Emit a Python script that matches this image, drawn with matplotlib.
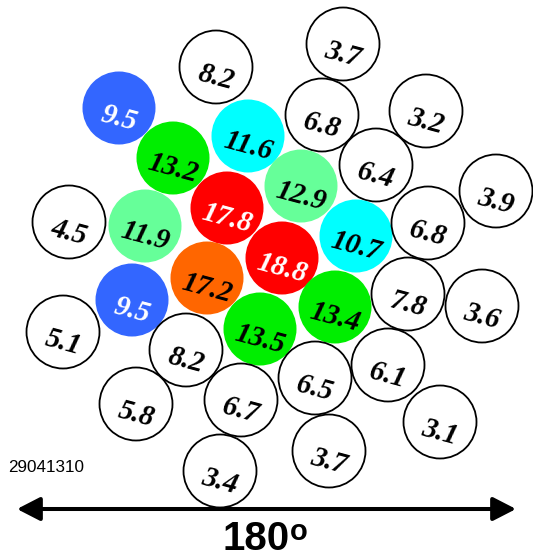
import matplotlib
matplotlib.use('Agg')
import matplotlib.pyplot as plt
from matplotlib.patches import Circle, FancyArrowPatch

# values shown in each circle
values = [8.2, 3.7, 9.5, 6.8, 3.2, 11.6, 13.2, 6.4, 12.9, 3.9, 17.8,
          4.5, 11.9, 10.7, 6.8, 18.8, 17.2, 9.5, 7.8, 3.6, 13.4, 5.1,
          13.5, 8.2, 6.1, 6.5, 5.8, 6.7, 3.1, 3.7, 3.4]
# circle centres (pixel-like layout units, y down)
xs = [216, 343, 119, 322, 426, 248, 173, 376, 301, 496, 227,
      69, 145, 356, 428, 282, 207, 132, 408, 482, 335, 63,
      260, 186, 388, 315, 136, 241, 440, 329, 220]
ys = [67, 44, 108, 115, 111, 136, 158, 165, 186, 191, 208,
      222, 226, 236, 223, 258, 278, 300, 294, 306, 307, 332,
      329, 350, 365, 378, 404, 400, 422, 451, 471]
fills = ['white', 'white', '#3366ff', 'white', 'white', '#00ffff', '#00ee00',
         'white', '#66ff99', 'white', '#ff0000', 'white', '#66ff99', '#00ffff',
         'white', '#ff0000', '#ff6600', '#3366ff', 'white', 'white', '#00ee00',
         'white', '#00ee00', 'white', 'white', 'white', 'white', 'white',
         'white', 'white', 'white']
white_text = ['#3366ff', '#ff0000']

fig = plt.figure(figsize=(5.33, 5.58), dpi=100)
ax = fig.add_axes([0, 0, 1, 1])
ax.set_xlim(0, 533)
ax.set_ylim(558, 0)
ax.set_aspect('equal')
ax.axis('off')

r = 36.5
for x, y, v, c in zip(xs, ys, values, fills):
    if c == 'white':
        ax.add_patch(Circle((x, y), r, facecolor='white', edgecolor='black', lw=1.3))
    else:
        ax.add_patch(Circle((x, y), r, facecolor=c, edgecolor='none'))
    tc = 'white' if c in white_text else 'black'
    ax.text(x, y + 10, str(v), ha='center', va='center', rotation=-15,
            fontsize=21, fontweight='bold', fontstyle='italic',
            family='Liberation Serif', color=tc)

arr = FancyArrowPatch((17, 509), (516, 509),
                      arrowstyle='<|-|>,head_length=0.7,head_width=0.36',
                      mutation_scale=20, lw=2.9, color='black',
                      shrinkA=0, shrinkB=0)
ax.add_patch(arr)

ax.text(8, 467, '29041310', ha='left', va='center', fontsize=12.3,
        family='Liberation Sans')
ax.text(290, 558, '180', ha='right', va='bottom', fontsize=29,
        fontweight='bold', family='Liberation Sans')
ax.text(290, 518, 'o', ha='left', va='top', fontsize=21,
        fontweight='bold', family='Liberation Sans')

fig.savefig('out.png', dpi=100)
